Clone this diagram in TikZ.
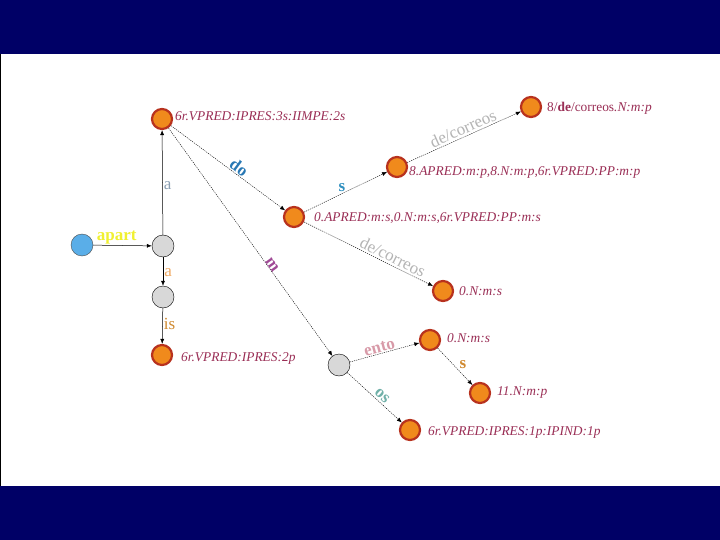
\documentclass[tikz,border=0pt]{standalone}
\usepackage{fontspec}
\setmainfont{Liberation Serif}
\usetikzlibrary{arrows.meta}
\definecolor{navy}{HTML}{000066}
\definecolor{finfill}{HTML}{F08A1C}
\definecolor{finborder}{HTML}{B8321E}
\definecolor{midgray}{HTML}{D8D8D8}
\definecolor{initblue}{HTML}{5AAEE8}
\definecolor{labred}{HTML}{9A2E55}
\definecolor{cyellow}{HTML}{F0F030}
\definecolor{cgrayblue}{HTML}{8CA0B4}
\definecolor{clorange}{HTML}{F0A860}
\definecolor{corange}{HTML}{D08A30}
\definecolor{cblue}{HTML}{2878B4}
\definecolor{cpurple}{HTML}{A04A96}
\definecolor{csblue}{HTML}{3090C0}
\definecolor{cgray}{HTML}{B4B4B4}
\definecolor{cpink}{HTML}{D89AA8}
\definecolor{cteal}{HTML}{70B0A8}
\begin{document}
\begin{tikzpicture}[x=1pt,y=-1pt,
  finst/.style={circle,draw=finborder,line width=2.2pt,fill=finfill,minimum size=20pt,inner sep=0pt},
  midst/.style={circle,draw=black,line width=0.4pt,fill=midgray,minimum size=22pt,inner sep=0pt},
  initst/.style={circle,draw=black!70,line width=0.4pt,fill=initblue,minimum size=22pt,inner sep=0pt},
  lab/.style={text=labred,font=\fontsize{13.4}{14}\selectfont\itshape,anchor=west,inner sep=0pt},
  dedge/.style={-{Latex[length=5pt,width=4pt]},line width=0.4pt,dash pattern=on 1.2pt off 1pt},
  sedge/.style={-{Latex[length=5pt,width=4pt]},line width=0.5pt},
  elb/.style={font=\fontsize{17}{17}\selectfont\bfseries,inner sep=1pt},
  eln/.style={font=\fontsize{17}{17}\selectfont,inner sep=1pt}
]
\useasboundingbox (0,0) rectangle (720,540);
\fill[white] (0,0) rectangle (720,540);
\fill[navy] (0,0) rectangle (720,54);
\fill[navy] (0,486) rectangle (720,540);
\draw[black,line width=0.8pt] (0.4,54) -- (0.4,486);

% states
\node[initst] (s0) at (82,245) {};
\node[midst] (g1) at (163,246) {};
\node[finst] (t1) at (162,119) {};
\node[midst] (g2) at (163,297) {};
\node[finst] (b1) at (162,355) {};
\node[finst] (m1) at (294,217) {};
\node[finst] (m2) at (397,167) {};
\node[finst] (m3) at (531,107) {};
\node[finst] (m4) at (443,291) {};
\node[midst] (g3) at (339,365) {};
\node[finst] (m5) at (430,340) {};
\node[finst] (m6) at (480,393) {};
\node[finst] (m7) at (410,430) {};

% state labels
\node[lab] (lt1) at (175,116) {6r.VPRED:IPRES:3s:IIMPE:2s};
\node[lab] (lb1) at (181,358) {6r.VPRED:IPRES:2p};
\node[lab] (lm1) at (314,218) {0.APRED:m:s,0.N:m:s,6r.VPRED:PP:m:s};
\node[lab] (lm2) at (409,172) {8.APRED:m:p,8.N:m:p,6r.VPRED:PP:m:p};
\node[lab] (lm3) at (547,108) {{\upshape 8/\textbf{de}/correos}.N:m:p};
\node[lab] (lm4) at (459,291) {0.N:m:s};
\node[lab] (lm5) at (447,338) {0.N:m:s};
\node[lab] (lm6) at (497,393) {11.N:m:p};
\node[lab] (lm7) at (428,432) {6r.VPRED:IPRES:1p:IPIND:1p};

% transitions
\draw[sedge] (s0) -- node[elb,text=cyellow,above,pos=0.4] {apart} (g1);
\draw[sedge] (g1) -- node[eln,text=cgrayblue,right,pos=0.47] {a} (t1);
\draw[sedge] (g1) -- node[eln,text=clorange,right,pos=0.55] {a} (g2);
\draw[sedge] (g2) -- node[eln,text=corange,right,pos=0.45] {is} (b1);
\draw[dedge] (t1) -- node[elb,text=cblue,sloped,above,pos=0.56] {do} (m1);
\draw[dedge] (t1) -- node[elb,text=cpurple,sloped,above,inner sep=0pt,pos=0.61] {m} (g3);
\draw[dedge] (m1) -- node[elb,text=csblue,above left,pos=0.5,inner sep=0pt] {s} (m2);
\draw[dedge] (m2) -- node[eln,text=cgray,sloped,above,pos=0.52,inner sep=2pt] {de/correos} (m3);
\draw[dedge] (m1) -- node[eln,text=cgray,sloped,above,pos=0.66,inner sep=2pt] {de/correos} (m4);
\draw[dedge] (g3) -- node[elb,text=cpink,sloped,above,pos=0.45] {ento} (m5);
\draw[dedge] (m5) -- node[elb,text=corange,above right,pos=0.6,inner sep=1pt] {s} (m6);
\draw[dedge] (g3) -- node[elb,text=cteal,sloped,above,pos=0.56,inner sep=2pt] {os} (m7);
\end{tikzpicture}
\end{document}
